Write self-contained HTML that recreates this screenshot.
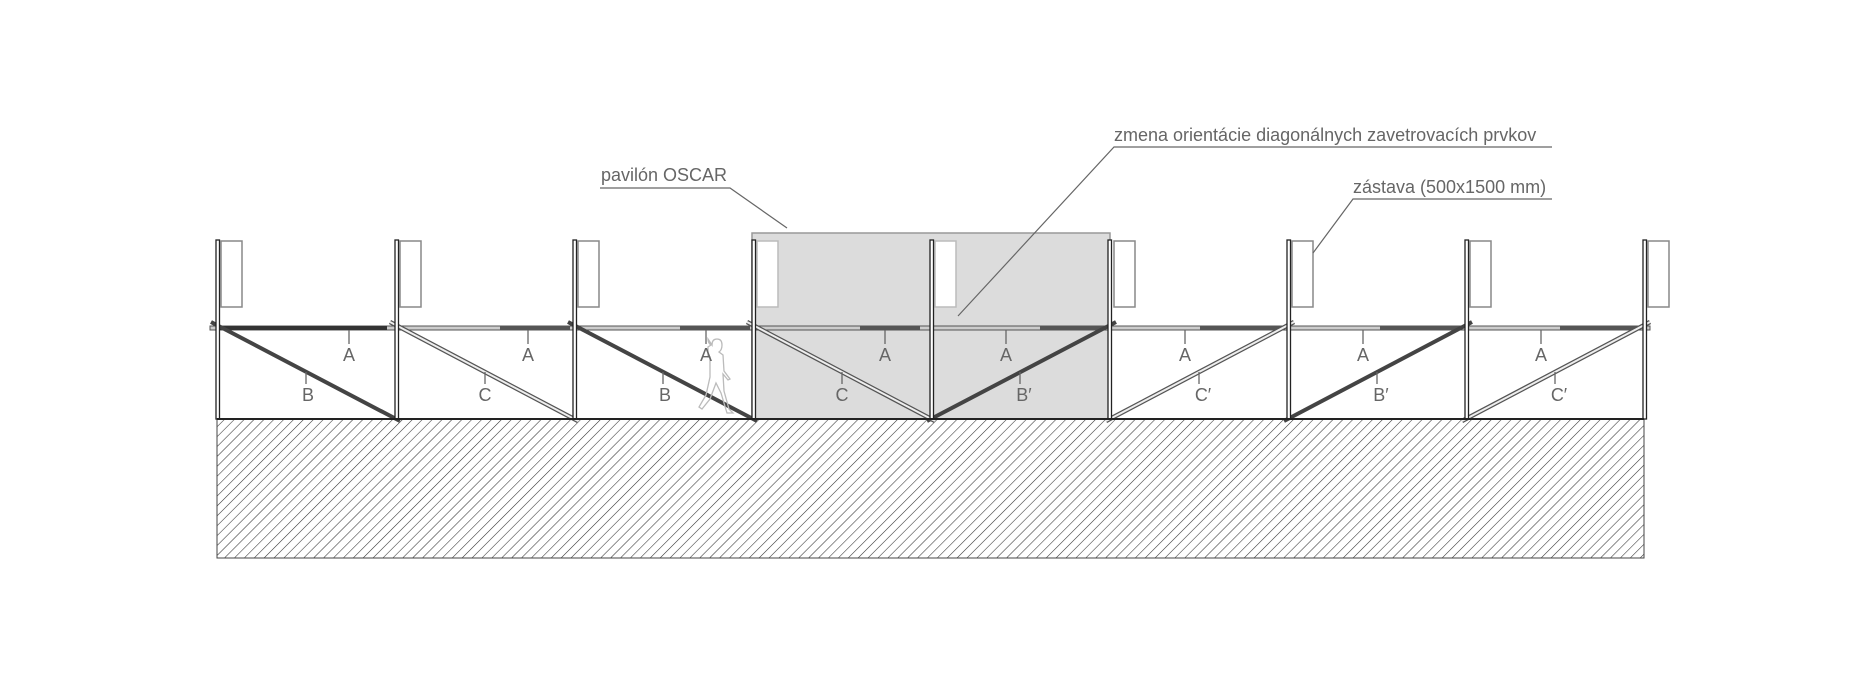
<!DOCTYPE html>
<html><head><meta charset="utf-8"><style>
html,body{margin:0;padding:0;background:#fff;}
svg{display:block;}
text{font-family:"Liberation Sans",sans-serif;fill:#666;font-size:18px;}
</style></head><body>
<svg width="1872" height="675" viewBox="0 0 1872 675" xmlns="http://www.w3.org/2000/svg">
<defs>
<pattern id="h" patternUnits="userSpaceOnUse" width="7" height="7" patternTransform="rotate(45)">
<line x1="0" y1="0" x2="0" y2="7" stroke="#333" stroke-width="1.1"/>
</pattern>
</defs>
<rect x="217" y="419" width="1427" height="139" fill="url(#h)" stroke="#444" stroke-width="1"/>
<rect x="752" y="233" width="358" height="186" fill="#dcdcdc" stroke="#999" stroke-width="1.5"/>
<g fill="#fff" stroke="#888" stroke-width="1.5">
<rect x="221" y="241" width="21" height="66"/>
<rect x="400" y="241" width="21" height="66"/>
<rect x="578" y="241" width="21" height="66"/>
<rect x="757" y="241" width="21" height="66" stroke="#bbb"/>
<rect x="935" y="241" width="21" height="66" stroke="#bbb"/>
<rect x="1114" y="241" width="21" height="66"/>
<rect x="1292" y="241" width="21" height="66"/>
<rect x="1470" y="241" width="21" height="66"/>
<rect x="1648" y="241" width="21" height="66"/>
</g>
<rect x="210" y="326" width="1440" height="4" fill="#ccc" stroke="#555" stroke-width="1"/>
<rect x="217" y="326" width="170" height="4" fill="#333"/>
<g fill="#555"><rect x="500" y="326" width="70" height="4"/><rect x="680" y="326" width="70" height="4"/><rect x="860" y="326" width="60" height="4"/><rect x="1040" y="326" width="65" height="4"/><rect x="1200" y="326" width="85" height="4"/><rect x="1380" y="326" width="80" height="4"/><rect x="1560" y="326" width="80" height="4"/></g>
<g stroke="#444" stroke-width="4" stroke-linecap="butt">
<line x1="211" y1="322" x2="400" y2="421"/>
<line x1="568" y1="322" x2="757" y2="421"/>
<line x1="927" y1="421" x2="1116" y2="322"/>
<line x1="1284" y1="421" x2="1472" y2="322"/>
</g>
<g stroke-width="4.5">
<line x1="390" y1="322" x2="578" y2="421" stroke="#555"/>
<line x1="747" y1="322" x2="935" y2="421" stroke="#555"/>
<line x1="1106" y1="421" x2="1294" y2="322" stroke="#555"/>
<line x1="1462" y1="421" x2="1650" y2="322" stroke="#555"/>
</g>
<g stroke-width="2" stroke="#eee">
<line x1="390" y1="322" x2="578" y2="421"/>
<line x1="747" y1="322" x2="935" y2="421"/>
<line x1="1106" y1="421" x2="1294" y2="322"/>
<line x1="1462" y1="421" x2="1650" y2="322"/>
</g>
<g fill="#fff" stroke="#222" stroke-width="1.3">
<rect x="216" y="240" width="3.5" height="179"/>
<rect x="395" y="240" width="3.5" height="179"/>
<rect x="573" y="240" width="3.5" height="179"/>
<rect x="752" y="240" width="3.5" height="179"/>
<rect x="930" y="240" width="3.5" height="179"/>
<rect x="1108" y="240" width="3.5" height="179"/>
<rect x="1287" y="240" width="3.5" height="179"/>
<rect x="1465" y="240" width="3.5" height="179"/>
<rect x="1643" y="240" width="3.5" height="179"/>
</g>
<line x1="217" y1="419" x2="1644" y2="419" stroke="#222" stroke-width="2"/>
<path d="M712 345 q0 -6 5 -6 q5 0 5 6 q0 5 -3 7 l4 3 l1 16 l6 8 l-2 1 l-5 -6 l1 17 l5 18 l4 4 l-6 0 l-6 -20 l-5 -10 l-6 16 l-8 10 l-3 -2 l7 -12 l4 -18 l0 -20 l-2 0 l0 -10 l3 -2 q-3 -2 -3 -6 z" fill="none" stroke="#bbb" stroke-width="1.3"/>
<g stroke="#666" stroke-width="1.3">
<line x1="349" y1="330" x2="349" y2="344"/><line x1="528" y1="330" x2="528" y2="344"/><line x1="706" y1="330" x2="706" y2="344"/><line x1="885" y1="330" x2="885" y2="344"/>
<line x1="1006" y1="330" x2="1006" y2="344"/><line x1="1185" y1="330" x2="1185" y2="344"/><line x1="1363" y1="330" x2="1363" y2="344"/><line x1="1541" y1="330" x2="1541" y2="344"/>
<line x1="306" y1="372" x2="306" y2="384"/><line x1="485" y1="372" x2="485" y2="384"/><line x1="663" y1="372" x2="663" y2="384"/><line x1="842" y1="372" x2="842" y2="384"/>
<line x1="1020" y1="372" x2="1020" y2="384"/><line x1="1199" y1="372" x2="1199" y2="384"/><line x1="1377" y1="372" x2="1377" y2="384"/><line x1="1555" y1="372" x2="1555" y2="384"/>
</g>
<g text-anchor="middle">
<text x="349" y="361">A</text><text x="528" y="361">A</text><text x="706" y="361">A</text><text x="885" y="361">A</text>
<text x="1006" y="361">A</text><text x="1185" y="361">A</text><text x="1363" y="361">A</text><text x="1541" y="361">A</text>
<text x="308" y="401">B</text><text x="485" y="401">C</text><text x="665" y="401">B</text><text x="842" y="401">C</text>
<text x="1024" y="401">B′</text><text x="1203" y="401">C′</text><text x="1381" y="401">B′</text><text x="1559" y="401">C′</text>
</g>
<g stroke="#666" stroke-width="1.2" fill="none">
<polyline points="600,188 730,188 787,228"/>
<polyline points="1552,147 1114,147 958,316"/>
<polyline points="1552,199 1353,199 1313,253"/>
</g>
<text x="601" y="181">pavilón OSCAR</text>
<text x="1114" y="141">zmena orientácie diagonálnych zavetrovacích prvkov</text>
<text x="1353" y="193">zástava (500x1500 mm)</text>
</svg>
</body></html>
